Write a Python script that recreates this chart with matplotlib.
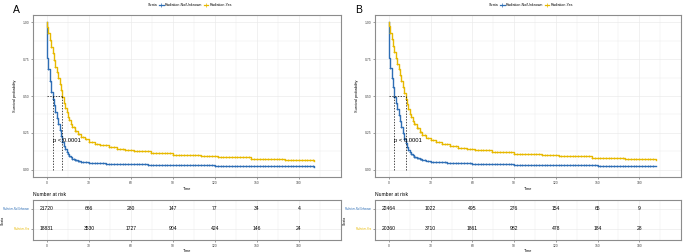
import numpy as np
import matplotlib.pyplot as plt
from matplotlib.lines import Line2D

plt.rcParams['font.family'] = ['Liberation Sans', 'DejaVu Sans']

BLUE = '#2E6EB5'
YELLOW = '#E7B800'
strata = ['Radiation-No/Unknown', 'Radiation-Yes']
risk_times = [0, 30, 60, 90, 120, 150, 180]

# Panel A: Kaplan-Meier step knots (months, survival)
a_no_t = [0, 0, 1, 2, 3, 4, 5, 6, 7, 8, 9, 10, 11, 12, 13, 14, 15, 16, 17, 18,
          20, 22, 24, 27, 30, 36, 42, 48, 60, 72, 90, 108, 120, 150, 180, 191]
a_no_s = [1.0, 0.76, 0.68, 0.60, 0.53, 0.48, 0.44, 0.39, 0.35, 0.31, 0.27, 0.23,
          0.19, 0.16, 0.14, 0.12, 0.105, 0.093, 0.083, 0.075, 0.066, 0.060, 0.055,
          0.050, 0.047, 0.043, 0.040, 0.038, 0.035, 0.033, 0.031, 0.029, 0.027,
          0.024, 0.022, 0.021]
a_yes_t = [0, 0, 1, 2, 3, 4, 5, 6, 7, 8, 9, 10, 11, 12, 13, 14, 15, 16, 17, 18,
           20, 22, 24, 27, 30, 34, 38, 44, 50, 56, 62, 74, 90, 110, 122, 146, 170,
           180, 191]
a_yes_s = [1.0, 0.97, 0.925, 0.88, 0.835, 0.79, 0.745, 0.70, 0.66, 0.62, 0.58,
           0.54, 0.495, 0.455, 0.42, 0.39, 0.36, 0.335, 0.31, 0.29, 0.26, 0.24,
           0.225, 0.205, 0.19, 0.177, 0.165, 0.152, 0.142, 0.134, 0.126, 0.112,
           0.100, 0.090, 0.084, 0.075, 0.067, 0.064, 0.060]
a_risk_no = [21720, 666, 280, 147, 77, 34, 4]
a_risk_yes = [18831, 3530, 1727, 904, 424, 146, 24]

# Panel B
b_no_t = [0, 0, 1, 2, 3, 4, 5, 6, 7, 8, 9, 10, 11, 12, 13, 14, 15, 16, 17, 18,
          20, 22, 24, 27, 30, 36, 42, 48, 60, 72, 90, 108, 120, 150, 180, 192]
b_no_s = [1.0, 0.76, 0.69, 0.62, 0.56, 0.49, 0.45, 0.41, 0.37, 0.33, 0.29, 0.25,
          0.21, 0.18, 0.155, 0.135, 0.12, 0.107, 0.097, 0.089, 0.078, 0.070, 0.064,
          0.059, 0.055, 0.050, 0.047, 0.044, 0.040, 0.037, 0.034, 0.032, 0.030,
          0.027, 0.025, 0.024]
b_yes_t = [0, 0, 1, 2, 3, 4, 5, 6, 7, 8, 9, 10, 11, 12, 13, 14, 15, 16, 17, 18,
           20, 22, 24, 27, 30, 34, 38, 44, 50, 56, 62, 74, 90, 110, 122, 146, 170,
           180, 192]
b_yes_s = [1.0, 0.975, 0.93, 0.885, 0.84, 0.80, 0.76, 0.72, 0.68, 0.64, 0.60,
           0.56, 0.52, 0.48, 0.445, 0.41, 0.38, 0.355, 0.33, 0.31, 0.28, 0.255,
           0.235, 0.215, 0.20, 0.185, 0.172, 0.158, 0.148, 0.14, 0.132, 0.118,
           0.106, 0.096, 0.090, 0.080, 0.072, 0.069, 0.066]
b_risk_no = [22464, 1022, 495, 276, 154, 65, 9]
b_risk_yes = [20360, 3710, 1861, 982, 478, 184, 28]

# censoring times (months)
censor_times = [1, 2, 3, 4, 5, 6, 7, 8, 9, 10, 11, 12, 13, 14, 15, 16, 17, 18, 19,
                20, 21, 22, 23, 24, 26, 28, 30, 32, 34, 36, 38, 40, 42, 44, 46, 48,
                50, 52, 54, 56, 58, 60, 62, 64, 66, 68, 70, 72, 74, 76, 78, 80, 82,
                84, 86, 88, 90, 92, 94, 96, 98, 100, 102, 104, 106, 108, 110, 112,
                114, 116, 118, 120, 122, 124, 126, 128, 130, 132, 134, 136, 138, 140,
                142, 144, 146, 148, 150, 152, 154, 156, 158, 160, 162, 164, 166, 168,
                170, 172, 174, 176, 178, 180, 182, 184, 186, 188, 190]

W, H = 685, 252
fig = plt.figure(figsize=(W / 100, H / 100), dpi=100)
GRID = '#EBEBEB'
BORDER = '#8C8C8C'


def style(ax):
    for sp in ax.spines.values():
        sp.set_color(BORDER)
        sp.set_linewidth(0.8)
    ax.tick_params(length=1.5, width=0.4, color='#555555', labelsize=2.4,
                   pad=1.2, labelcolor='#444444')
    ax.tick_params(which='minor', length=0)
    ax.set_xlim(-10, 210)
    ax.set_xticks(risk_times)
    ax.set_xticks([15, 45, 75, 105, 135, 165, 195], minor=True)
    ax.grid(True, which='major', color=GRID, lw=0.5)
    ax.grid(True, which='minor', color=GRID, lw=0.3)
    ax.set_axisbelow(True)


def km(ax, t, s, color):
    t = np.array(t)
    s = np.array(s)
    ax.step(t, s, where='post', color=color, lw=1.0)
    c = np.array([x for x in censor_times if x <= t[-1]])
    cs = s[np.searchsorted(t, c, side='right') - 1]
    ax.plot(c, cs, ls='none', marker='+', ms=2.0, mew=0.5, color=color)
    return t[np.argmax(s <= 0.5)]


panels = [
    (33, 341, 'A', a_no_t, a_no_s, a_yes_t, a_yes_s, a_risk_no, a_risk_yes),
    (375, 681, 'B', b_no_t, b_no_s, b_yes_t, b_yes_s, b_risk_no, b_risk_yes),
]

for left_px, right_px, letter, nt, ns, yt, ys, rno, ryes in panels:
    x0 = left_px / W
    w = (right_px - left_px) / W
    ax = fig.add_axes([x0, 1 - 177 / H, w, 162 / H])
    style(ax)
    ax.set_ylim(-0.05, 1.05)
    ax.set_yticks([0, 0.25, 0.5, 0.75, 1.0])
    ax.set_yticklabels(['0.00', '0.25', '0.50', '0.75', '1.00'])
    ax.set_yticks([0.125, 0.375, 0.625, 0.875], minor=True)
    m1 = km(ax, nt, ns, BLUE)
    m2 = km(ax, yt, ys, YELLOW)
    ax.plot([0, max(m1, m2)], [0.5, 0.5], color='black', ls=(0, (2, 2)), lw=0.5)
    for m in (m1, m2):
        ax.plot([m, m], [0, 0.5], color='black', ls=(0, (2, 2)), lw=0.5)
    ax.text(m1, 0.2, 'p < 0.0001', fontsize=4.2, ha='left', va='center')
    ax.set_xlabel('Time', fontsize=2.8, labelpad=1.5)
    ax.set_ylabel('Survival probability', fontsize=2.8, labelpad=4)

    handles = [Line2D([], [], ls='none'),
               Line2D([], [], color=BLUE, marker='+', lw=0.9, ms=2.2, mew=0.5),
               Line2D([], [], color=YELLOW, marker='+', lw=0.9, ms=2.2, mew=0.5)]
    fig.legend(handles, ['Strata'] + strata, ncol=3, fontsize=2.6, frameon=False,
               loc='center', bbox_to_anchor=(x0 + w / 2, 1 - 5.5 / H),
               handlelength=1.2, handletextpad=0.3, columnspacing=0.6)
    fig.text((left_px - 20) / W, 1 - 10 / H, letter, fontsize=7.5,
             ha='left', va='center')

    at = fig.add_axes([x0, 1 - 240 / H, w, 40 / H])
    style(at)
    at.tick_params(axis='y', pad=0.6)
    at.set_ylim(0.45, 2.45)
    at.set_yticks([2, 1])
    at.set_yticklabels(strata, fontsize=1.9)
    for lab, col in zip(at.get_yticklabels(), [BLUE, YELLOW]):
        lab.set_color(col)
    for tt, a, b in zip(risk_times, rno, ryes):
        at.text(tt, 2, str(a), fontsize=3.6, ha='center', va='center')
        at.text(tt, 1, str(b), fontsize=3.6, ha='center', va='center')
    at.set_xlabel('Time', fontsize=2.8, labelpad=0.8)
    at.set_ylabel('Strata', fontsize=2.4)
    at.yaxis.set_label_coords(-0.092, 0.5)
    at.set_title('Number at risk', fontsize=3.6, loc='left', pad=3)

fig.savefig('out.png', dpi=100)
